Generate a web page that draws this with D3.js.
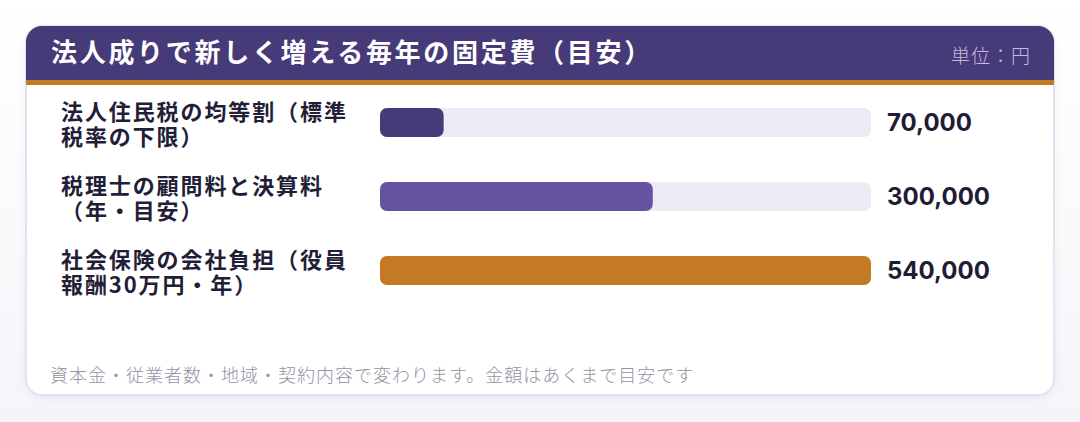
<!DOCTYPE html>
<html lang="ja">
<head>
<meta charset="utf-8">
<script src="https://cdn.jsdelivr.net/npm/d3@7"></script>
<style>
  html, body { margin: 0; padding: 0; }
  body { width: 1080px; height: 422px; overflow: hidden;
         background: linear-gradient(#ffffff, #f5f4f9); }
  svg { display: block; }
  text { font-family: "Noto Sans CJK JP", "Noto Sans", sans-serif; }
</style>
</head>
<body>
<svg id="chart"></svg>
<script>
// what the chart shows
var title = "法人成りで新しく増える毎年の固定費（目安）";
var unitLabel = "単位：円";
var note = "資本金・従業者数・地域・契約内容で変わります。金額はあくまで目安です";

var categories = [
  "法人住民税の均等割（標準税率の下限）",
  "税理士の顧問料と決算料（年・目安）",
  "社会保険の会社負担（役員報酬30万円・年）"
];
var values = [70000, 300000, 540000];
var barColors = ["#463b79", "#6553a0", "#c47a25"];

var width = 1080, height = 422;
var card = {x: 26, y: 26, w: 1028, h: 369, r: 16};
var headerH = 54;

var svg = d3.select("#chart")
  .attr("width", width)
  .attr("height", height);

// soft shadow under the card
var defs = svg.append("defs");
var shadow = defs.append("filter").attr("id", "shadow")
  .attr("x", "-5%").attr("y", "-5%").attr("width", "110%").attr("height", "120%");
shadow.append("feDropShadow")
  .attr("dx", 0).attr("dy", 2).attr("stdDeviation", 3)
  .attr("flood-color", "#3c3270").attr("flood-opacity", 0.06);

var clip = defs.append("clipPath").attr("id", "card-clip");
clip.append("rect")
  .attr("x", card.x).attr("y", card.y)
  .attr("width", card.w).attr("height", card.h)
  .attr("rx", card.r);

svg.append("rect")
  .attr("x", card.x).attr("y", card.y)
  .attr("width", card.w).attr("height", card.h)
  .attr("rx", card.r)
  .attr("fill", "#ffffff")
  .attr("stroke", "#dedbed")
  .attr("stroke-width", 1.5)
  .attr("filter", "url(#shadow)");

// header band + orange rule
var head = svg.append("g").attr("clip-path", "url(#card-clip)");
head.append("rect")
  .attr("x", card.x).attr("y", card.y)
  .attr("width", card.w).attr("height", headerH)
  .attr("fill", "#463a79");
head.append("rect")
  .attr("x", card.x).attr("y", card.y + headerH)
  .attr("width", card.w).attr("height", 5)
  .attr("fill", "#c47a25");

svg.append("text")
  .attr("x", 51).attr("y", 62)
  .attr("fill", "#ffffff")
  .attr("font-size", 26)
  .attr("font-weight", 700)
  .attr("letter-spacing", 2.7)
  .text(title);

svg.append("text")
  .attr("x", 1031).attr("y", 63)
  .attr("text-anchor", "end")
  .attr("fill", "#c3bcdb")
  .attr("font-size", 19)
  .attr("font-weight", 300)
  .attr("letter-spacing", 1)
  .text(unitLabel);

// scales
var x = d3.scaleLinear()
  .domain([0, d3.max(values)])
  .range([380, 871]);

var y = d3.scalePoint()
  .domain(categories)
  .range([122.5, 270.5]);

var barH = 29;

var rows = svg.selectAll("g.row")
  .data(categories)
  .enter()
  .append("g")
  .classed("row", true);

// background track
rows.append("rect")
  .attr("x", x(0))
  .attr("y", function(d) { return y(d) - barH / 2; })
  .attr("width", x.range()[1] - x(0))
  .attr("height", barH)
  .attr("rx", 7)
  .attr("fill", "#ecebf5");

// value bar
rows.append("rect")
  .attr("x", x(0))
  .attr("y", function(d) { return y(d) - barH / 2; })
  .attr("width", function(d, i) { return x(values[i]) - x(0); })
  .attr("height", barH)
  .attr("rx", 7)
  .attr("fill", function(d, i) { return barColors[i]; });

// value text
rows.append("text")
  .attr("x", 887)
  .attr("y", function(d) { return y(d); })
  .attr("dy", "0.36em")
  .attr("fill", "#211c35")
  .attr("font-size", 24)
  .attr("font-weight", 700)
  .style("font-family", "Inter, 'Noto Sans', sans-serif")
  .text(function(d, i) { return d3.format(",")(values[i]); });

// category labels, wrapped by width (no opening bracket left at a line end)
var labelW = 298, lineH = 25;
rows.append("text")
  .attr("x", 61)
  .attr("fill", "#231e37")
  .attr("font-size", 22)
  .attr("font-weight", 700)
  .attr("letter-spacing", 1.9)
  .each(function(d) {
    var t = d3.select(this);
    var probe = t.append("tspan").attr("x", 61);
    var lines = [], cur = "";
    Array.from(d).forEach(function(ch) {
      probe.text(cur + ch);
      if (cur !== "" && probe.node().getComputedTextLength() > labelW) {
        if (cur.slice(-1) === "（") {
          lines.push(cur.slice(0, -1));
          cur = "（" + ch;
        } else {
          lines.push(cur);
          cur = ch;
        }
      } else {
        cur += ch;
      }
    });
    lines.push(cur);
    probe.remove();
    var top = y(d) - (lines.length - 1) * lineH / 2 + 2;
    lines.forEach(function(l, i) {
      t.append("tspan")
        .attr("x", 61)
        .attr("y", top + i * lineH)
        .attr("dy", "0.35em")
        .text(l);
    });
  });

svg.append("text")
  .attr("x", 50).attr("y", 382)
  .attr("fill", "#95939f")
  .attr("font-size", 18)
  .attr("font-weight", 300)
  .attr("letter-spacing", 1)
  .text(note);
</script>
</body>
</html>
